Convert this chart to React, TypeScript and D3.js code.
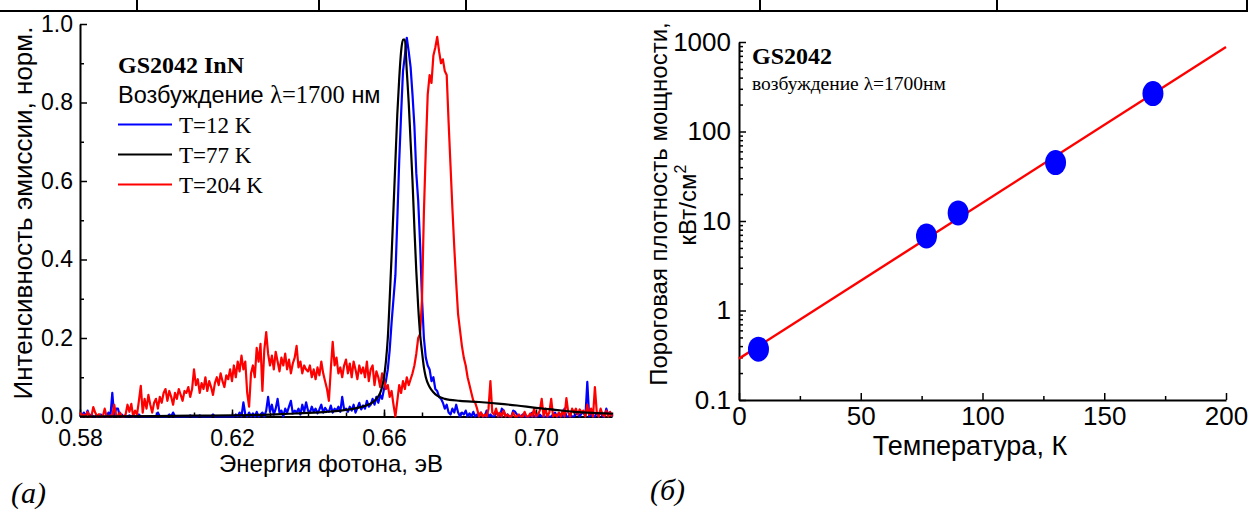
import React, { useEffect, useRef } from 'react';
import * as d3 from 'd3';

// ---- panel (a): emission spectra, energy grid 0.580 .. 0.720 eV, step 0.0005 ----
const energyStart = 0.58;
const energyStep = 0.0005;

const intensity12K = [
  0.005, 0.0, 0.01, 0.0, 0.015, 0.0, 0.005, 0.0, 0.0, 0.003, 0.0, 0.005, 0.0, 0.0, 0.0, 0.01, 0.0, 0.06, 0.0, 0.02,
  0.02, 0.0, 0.005, 0.0, 0.0, 0.0, 0.003, 0.0, 0.0, 0.0, 0.0, 0.005, 0.0, 0.0, 0.0, 0.0, 0.0, 0.0, 0.0, 0.0,
  0.0, 0.01, 0.0, 0.0, 0.0, 0.0, 0.0, 0.005, 0.0, 0.01, 0.0, 0.0, 0.0, 0.0, 0.0, 0.0, 0.0, 0.0, 0.003, 0.0,
  0.0, 0.0, 0.0, 0.003, 0.0, 0.0, 0.0, 0.0, 0.0, 0.0, 0.005, 0.0, 0.0, 0.0, 0.0, 0.0, 0.0, 0.0, 0.0, 0.0,
  0.0, 0.0, 0.005, 0.0, 0.01, 0.0, 0.036, 0.005, 0.0, 0.01, 0.0, 0.008, 0.0, 0.012, 0.0, 0.005, 0.01, 0.0, 0.015, 0.05,
  0.012, 0.03, 0.005, 0.02, 0.045, 0.01, 0.015, 0.0, 0.02, 0.01, 0.025, 0.04, 0.008, 0.015, 0.01, 0.02, 0.005, 0.03, 0.012, 0.036,
  0.015, 0.01, 0.025, 0.012, 0.02, 0.008, 0.018, 0.03, 0.01, 0.022, 0.015, 0.012, 0.028, 0.01, 0.02, 0.015, 0.025, 0.012, 0.05, 0.018,
  0.02, 0.012, 0.025, 0.015, 0.03, 0.01, 0.022, 0.035, 0.018, 0.028, 0.02, 0.04, 0.025, 0.03, 0.045, 0.03, 0.05, 0.035, 0.055, 0.045,
  0.07, 0.09, 0.12, 0.17, 0.24, 0.3, 0.36, 0.5, 0.65, 0.77, 0.88, 0.92, 0.965, 0.93, 0.89, 0.82, 0.74, 0.62, 0.55, 0.44,
  0.3, 0.2, 0.15, 0.13, 0.12, 0.09, 0.1, 0.07, 0.065, 0.05, 0.045, 0.035, 0.02, 0.03, 0.01, 0.005, 0.02, 0.01, 0.03, 0.01,
  0.0, 0.01, 0.005, 0.015, 0.0, 0.008, 0.0, 0.012, 0.0, 0.005, 0.0, 0.01, 0.0, 0.0, 0.015, 0.0, 0.005, 0.0, 0.0, 0.01,
  0.005, 0.0, 0.02, 0.015, 0.0, 0.005, 0.0, 0.0, 0.015, 0.012, 0.005, 0.0, 0.0, 0.005, 0.0, 0.0, 0.0, 0.0, 0.01, 0.0,
  0.0, 0.0, 0.005, 0.0, 0.0, 0.0, 0.0, 0.0, 0.0, 0.005, 0.01, 0.0, 0.0, 0.005, 0.0, 0.02, 0.0, 0.0, 0.005, 0.0,
  0.0, 0.005, 0.01, 0.0, 0.008, 0.01, 0.0, 0.088, 0.0, 0.005, 0.0, 0.0, 0.01, 0.0, 0.015, 0.0, 0.0, 0.02, 0.005, 0.01,
  0.0,
];

const intensity204K = [
  0.01, 0.0, 0.005, 0.0, 0.012, 0.0, 0.0, 0.024, 0.01, 0.0, 0.006, 0.0, 0.0, 0.02, 0.0, 0.0, 0.003, 0.0, 0.03, 0.004,
  0.0, 0.01, 0.0, 0.0, 0.005, 0.03, 0.012, 0.032, 0.0, 0.015, 0.005, 0.04, 0.078, 0.01, 0.045, 0.02, 0.055, 0.03, 0.01, 0.035,
  0.045, 0.02, 0.05, 0.035, 0.06, 0.07, 0.04, 0.065, 0.05, 0.03, 0.06, 0.045, 0.07, 0.055, 0.04, 0.065, 0.06, 0.075, 0.05, 0.07,
  0.12, 0.08, 0.095, 0.06, 0.085, 0.07, 0.1, 0.065, 0.09, 0.075, 0.055, 0.085, 0.1, 0.08, 0.11, 0.09, 0.075, 0.105, 0.095, 0.12,
  0.09, 0.13, 0.1, 0.14, 0.115, 0.155, 0.12, 0.14, 0.06, 0.025, 0.11, 0.13, 0.1, 0.175, 0.14, 0.185, 0.065, 0.17, 0.215, 0.16,
  0.13, 0.155, 0.12, 0.165, 0.14, 0.115, 0.15, 0.13, 0.16, 0.12, 0.145, 0.11, 0.135, 0.15, 0.18, 0.125, 0.14, 0.11, 0.13, 0.12,
  0.115, 0.13, 0.1, 0.12, 0.095, 0.125, 0.105, 0.14, 0.11, 0.09, 0.07, 0.04, 0.12, 0.19, 0.13, 0.15, 0.11, 0.125, 0.1, 0.13,
  0.145, 0.11, 0.135, 0.1, 0.14, 0.12, 0.095, 0.13, 0.11, 0.125, 0.1, 0.14, 0.09, 0.12, 0.13, 0.08, 0.115, 0.1, 0.075, 0.11,
  0.095, 0.07, 0.08, 0.05, 0.065, 0.03, 0.0, 0.04, 0.08, 0.06, 0.09, 0.07, 0.1, 0.08, 0.095, 0.11, 0.13, 0.16, 0.2, 0.21,
  0.3, 0.52, 0.68, 0.82, 0.87, 0.85, 0.92, 0.94, 0.967, 0.93, 0.9, 0.91, 0.88, 0.87, 0.75, 0.64, 0.53, 0.43, 0.34, 0.26,
  0.22, 0.18, 0.15, 0.13, 0.1, 0.08, 0.06, 0.04, 0.035, 0.02, 0.0, 0.01, 0.0, 0.005, 0.0, 0.02, 0.09, 0.01, 0.005, 0.02,
  0.0, 0.01, 0.0, 0.015, 0.0, 0.005, 0.0, 0.0, 0.01, 0.0, 0.0, 0.005, 0.0, 0.0, 0.012, 0.0, 0.0, 0.008, 0.0, 0.02,
  0.0, 0.005, 0.015, 0.045, 0.0, 0.02, 0.0, 0.01, 0.045, 0.0, 0.005, 0.0, 0.01, 0.0, 0.015, 0.0, 0.047, 0.01, 0.0, 0.02,
  0.01, 0.02, 0.005, 0.018, 0.01, 0.015, 0.0, 0.03, 0.005, 0.02, 0.0, 0.075, 0.01, 0.0, 0.02, 0.005, 0.0, 0.015, 0.0, 0.012,
  0.0,
];

// T=77 K is a smooth curve, sampled unevenly
const energy77K = [
  0.58, 0.6, 0.61, 0.62, 0.63, 0.635, 0.64, 0.645, 0.65, 0.653, 0.655, 0.657, 0.658, 0.659, 0.6595,
  0.66, 0.6605, 0.661, 0.6615, 0.662, 0.6625, 0.663, 0.6635, 0.664, 0.6645, 0.665, 0.6655, 0.666, 0.6665,
  0.667, 0.6675, 0.668, 0.6685, 0.669, 0.6695, 0.67, 0.6705, 0.671, 0.672, 0.673, 0.674, 0.676, 0.68,
  0.685, 0.69, 0.695, 0.7, 0.705, 0.71, 0.715, 0.72,
];
const intensity77K = [
  0.0, 0.001, 0.002, 0.003, 0.005, 0.007, 0.009, 0.012, 0.017, 0.022, 0.027, 0.036, 0.045, 0.06, 0.075,
  0.1, 0.14, 0.2, 0.3, 0.41, 0.53, 0.65, 0.77, 0.86, 0.93, 0.96, 0.96, 0.88, 0.8,
  0.7, 0.6, 0.48, 0.37, 0.28, 0.21, 0.165, 0.125, 0.1, 0.075, 0.062, 0.053, 0.045, 0.04,
  0.037, 0.033, 0.028, 0.022, 0.017, 0.012, 0.009, 0.007,
];

const legendLabels = ['T=12 K', 'T=77 K', 'T=204 K'];
const legendColors = ['#0000ff', '#000000', '#ff0000'];
const energyTicks = [0.58, 0.62, 0.66, 0.7];
const intensityTicks = [0, 0.2, 0.4, 0.6, 0.8, 1.0];

// ---- panel (б): threshold power density vs temperature ----
const temperature = [8, 77, 90, 130, 170];
const thresholdDensity = [0.37, 6.8, 12.3, 45, 265];
const fitTemperature = [0, 200];
const fitDensity = [0.29, 880];
const temperatureTicks = [0, 50, 100, 150, 200];
const densityTicks = [0.1, 1, 10, 100, 1000];

const sans = "'Liberation Sans', Arial, sans-serif";
const serif = "'Liberation Serif', 'Times New Roman', serif";

const styleAxis = (g, size) => {
  g.attr('font-family', sans).attr('font-size', size);
  g.select('.domain').attr('stroke', '#000').attr('stroke-width', 2);
  g.selectAll('.tick line').attr('stroke', '#000').attr('stroke-width', 1.5);
  g.selectAll('.tick text').attr('fill', '#000');
};

const App = () => {
  const svgRef = useRef(null);

  useEffect(() => {
    const svg = d3.select(svgRef.current);
    svg.html('');

    // table ruling at the top of the page
    svg.append('line')
      .attr('x1', 0).attr('x2', 1248).attr('y1', 11).attr('y2', 11)
      .attr('stroke', '#000').attr('stroke-width', 2);
    [137, 319, 466, 760, 997, 1247].forEach(x => {
      svg.append('line')
        .attr('x1', x).attr('x2', x).attr('y1', 0).attr('y2', 11)
        .attr('stroke', '#000').attr('stroke-width', 2);
    });

    // ===== panel (a) =====
    const x = d3.scaleLinear().domain([0.58, 0.72]).range([80, 612]);
    const y = d3.scaleLinear().domain([0, 1]).range([416.5, 24]);

    const xMinor = svg.append('g')
      .attr('transform', `translate(0,${y(0)})`)
      .call(d3.axisBottom(x).tickValues(d3.range(0.58, 0.7201, 0.01)).tickSizeInner(-4).tickSizeOuter(0).tickFormat(() => ''));
    xMinor.select('.domain').remove();
    xMinor.selectAll('.tick line').attr('stroke', '#000').attr('stroke-width', 1.5);

    const yMinor = svg.append('g')
      .attr('transform', `translate(${x(0.58)},0)`)
      .call(d3.axisLeft(y).tickValues(d3.range(0.1, 1, 0.2)).tickSizeInner(-4).tickSizeOuter(0).tickFormat(() => ''));
    yMinor.select('.domain').remove();
    yMinor.selectAll('.tick line').attr('stroke', '#000').attr('stroke-width', 1.5);

    const xAxis = svg.append('g')
      .attr('transform', `translate(0,${y(0)})`)
      .call(d3.axisBottom(x).tickValues(energyTicks).tickSizeInner(-7).tickSizeOuter(0).tickPadding(13).tickFormat(d3.format('.2f')));
    styleAxis(xAxis, 23);

    const yAxis = svg.append('g')
      .attr('transform', `translate(${x(0.58)},0)`)
      .call(d3.axisLeft(y).tickValues(intensityTicks).tickSizeInner(-7).tickSizeOuter(0).tickPadding(7).tickFormat(d3.format('.1f')));
    styleAxis(yAxis, 23);

    const gridLine = d3.line()
      .x((d, i) => x(energyStart + i * energyStep))
      .y(d => y(d));

    svg.append('path')
      .datum(intensity12K)
      .attr('fill', 'none').attr('stroke', legendColors[0]).attr('stroke-width', 2.2)
      .attr('stroke-linejoin', 'round')
      .attr('d', gridLine);

    svg.append('path')
      .datum(intensity204K)
      .attr('fill', 'none').attr('stroke', legendColors[2]).attr('stroke-width', 2.2)
      .attr('stroke-linejoin', 'round')
      .attr('d', gridLine);

    const smoothLine = d3.line()
      .x((d, i) => x(energy77K[i]))
      .y(d => y(d))
      .curve(d3.curveMonotoneX);

    svg.append('path')
      .datum(intensity77K)
      .attr('fill', 'none').attr('stroke', legendColors[1]).attr('stroke-width', 2.2)
      .attr('d', smoothLine);

    // title + legend
    svg.append('text')
      .attr('x', 118).attr('y', 73)
      .attr('font-family', serif).attr('font-size', 24).attr('font-weight', 'bold')
      .text('GS2042 InN');

    const exc = svg.append('text')
      .attr('x', 118).attr('y', 103)
      .attr('font-family', sans).attr('font-size', 23.5);
    exc.append('tspan').text('Возбуждение ');
    exc.append('tspan').attr('font-family', serif).attr('font-size', 24.5).text('λ=1700');
    exc.append('tspan').text(' нм');

    legendLabels.forEach((label, i) => {
      const ly = 124.5 + i * 30;
      svg.append('line')
        .attr('x1', 118).attr('x2', 172).attr('y1', ly).attr('y2', ly)
        .attr('stroke', legendColors[i]).attr('stroke-width', 2.2);
      svg.append('text')
        .attr('x', 179).attr('y', ly + 8)
        .attr('font-family', serif).attr('font-size', 23)
        .text(label);
    });

    svg.append('text')
      .attr('transform', 'translate(32,213) rotate(-90)')
      .attr('text-anchor', 'middle')
      .attr('font-family', sans).attr('font-size', 26)
      .text('Интенсивность эмиссии, норм.');

    svg.append('text')
      .attr('x', 331).attr('y', 472)
      .attr('text-anchor', 'middle')
      .attr('font-family', sans).attr('font-size', 24)
      .text('Энергия фотона, эВ');

    svg.append('text')
      .attr('x', 11).attr('y', 503)
      .attr('font-family', serif).attr('font-size', 30).attr('font-style', 'italic')
      .text('(a)');

    // ===== panel (б) =====
    const xT = d3.scaleLinear().domain([0, 200]).range([739, 1226]);
    const yP = d3.scaleLog().domain([0.1, 1000]).range([400, 42]);

    const xTMinor = svg.append('g')
      .attr('transform', `translate(0,${yP(0.1)})`)
      .call(d3.axisBottom(xT).tickValues([25, 75, 125, 175]).tickSizeInner(-4).tickSizeOuter(0).tickFormat(() => ''));
    xTMinor.select('.domain').remove();
    xTMinor.selectAll('.tick line').attr('stroke', '#000').attr('stroke-width', 1.5);

    const minorDensity = yP.ticks().filter(v => !densityTicks.some(t => Math.abs(t - v) < 1e-9));
    const yPMinor = svg.append('g')
      .attr('transform', `translate(${xT(0)},0)`)
      .call(d3.axisLeft(yP).tickValues(minorDensity).tickSizeInner(-4).tickSizeOuter(0).tickFormat(() => ''));
    yPMinor.select('.domain').remove();
    yPMinor.selectAll('.tick line').attr('stroke', '#000').attr('stroke-width', 1.5);

    const xTAxis = svg.append('g')
      .attr('transform', `translate(0,${yP(0.1)})`)
      .call(d3.axisBottom(xT).tickValues(temperatureTicks).tickSizeInner(-7).tickSizeOuter(0).tickPadding(7).tickFormat(d3.format('d')));
    styleAxis(xTAxis, 26);

    const yPAxis = svg.append('g')
      .attr('transform', `translate(${xT(0)},0)`)
      .call(d3.axisLeft(yP).tickValues(densityTicks).tickSizeInner(-7).tickSizeOuter(0).tickPadding(8).tickFormat(d3.format('~g')));
    styleAxis(yPAxis, 26);

    svg.append('path')
      .datum(fitDensity)
      .attr('fill', 'none').attr('stroke', '#ff0000').attr('stroke-width', 2.4)
      .attr('d', d3.line().x((d, i) => xT(fitTemperature[i])).y(d => yP(d)));

    svg.selectAll('ellipse.pt')
      .data(thresholdDensity)
      .join('ellipse')
      .attr('class', 'pt')
      .attr('cx', (d, i) => xT(temperature[i]))
      .attr('cy', d => yP(d))
      .attr('rx', 10.5).attr('ry', 12.5)
      .attr('fill', '#0000ff');

    svg.append('text')
      .attr('x', 752).attr('y', 64)
      .attr('font-family', serif).attr('font-size', 24).attr('font-weight', 'bold')
      .text('GS2042');

    svg.append('text')
      .attr('x', 752).attr('y', 90)
      .attr('font-family', serif).attr('font-size', 19.5)
      .text('возбуждение λ=1700нм');

    svg.append('text')
      .attr('transform', 'translate(667,204) rotate(-90)')
      .attr('text-anchor', 'middle')
      .attr('font-family', sans).attr('font-size', 24)
      .text('Пороговая плотность мощности,');

    const unit = svg.append('text')
      .attr('transform', 'translate(696,205) rotate(-90)')
      .attr('text-anchor', 'middle')
      .attr('font-family', sans).attr('font-size', 24);
    unit.append('tspan').text('кВт/см');
    unit.append('tspan').attr('dy', -10).attr('font-size', 16).text('2');

    svg.append('text')
      .attr('x', 970).attr('y', 455)
      .attr('text-anchor', 'middle')
      .attr('font-family', sans).attr('font-size', 27)
      .text('Температура, К');

    svg.append('text')
      .attr('x', 650).attr('y', 500)
      .attr('font-family', serif).attr('font-size', 30).attr('font-style', 'italic')
      .text('(б)');
  }, []);

  return (
    <div style={{ position: 'absolute', left: 0, top: 0, background: '#fff' }}>
      <svg ref={svgRef} width={1250} height={513} style={{ display: 'block' }} />
    </div>
  );
};

export default App;
